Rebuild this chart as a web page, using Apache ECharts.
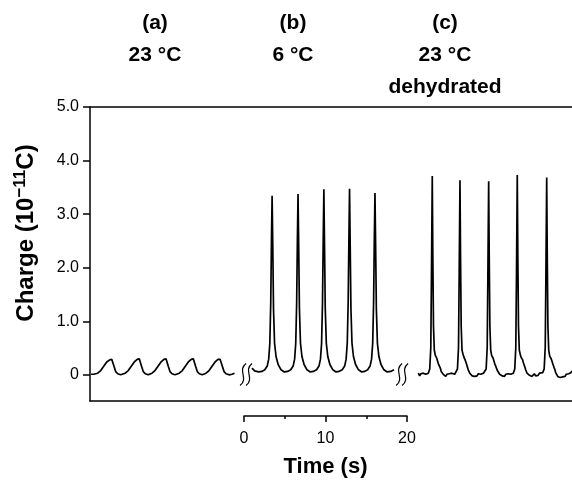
<!DOCTYPE html>
<html>
<head>
<meta charset="utf-8">
<title>Charge vs time</title>
<script src="https://cdn.jsdelivr.net/npm/echarts@6/dist/echarts.min.js"></script>
<style>
  html, body { margin: 0; padding: 0; background: #fff; }
  #chart { width: 572px; height: 483px; }
</style>
</head>
<body>
<div id="chart"></div>
<script>
// time (s) from the left edge of each panel, charge in 10^-11 C
const panelA = [
  [0, 0.0], [0.33, 0.0], [0.82, 0.02], [1.19, 0.07], [1.56, 0.15], [1.93, 0.23], [2.29, 0.27], [2.54, 0.28], [2.66, 0.25], [2.82, 0.15], [3.03, 0.05], [3.28, 0.01], [3.64, -0.01],
  [4.2, 0.02], [4.57, 0.07], [4.94, 0.15], [5.31, 0.23], [5.67, 0.28], [5.92, 0.29], [6.04, 0.26], [6.2, 0.15], [6.41, 0.05], [6.66, 0.01], [7.02, -0.01],
  [7.48, 0.02], [7.85, 0.07], [8.22, 0.15], [8.59, 0.23], [8.95, 0.28], [9.2, 0.29], [9.32, 0.26], [9.48, 0.15], [9.69, 0.05], [9.94, 0.01], [10.3, -0.01],
  [10.83, 0.02], [11.2, 0.07], [11.57, 0.15], [11.94, 0.23], [12.3, 0.28], [12.55, 0.29], [12.67, 0.26], [12.83, 0.15], [13.04, 0.05], [13.29, 0.01], [13.65, -0.01],
  [14.11, 0.02], [14.48, 0.07], [14.85, 0.15], [15.22, 0.23], [15.58, 0.28], [15.83, 0.28], [15.95, 0.25], [16.11, 0.15], [16.32, 0.05], [16.57, 0.01], [16.93, -0.01], [17.3, 0.0], [17.6, 0.02]
]

const panelB = [
  [0.98, 0.08], [1.3, 0.03], [1.8, 0.01], [2.2, 0.02],
  [2.55, 0.05], [2.85, 0.12], [3.03, 0.25], [3.17, 0.55], [3.28, 1.3], [3.37, 2.5], [3.45, 3.33], [3.53, 2.4], [3.62, 1.2], [3.75, 0.55], [3.93, 0.3], [4.19, 0.15], [4.55, 0.05], [4.95, 0.01], [5.35, 0.02],
  [5.73, 0.05], [6.03, 0.12], [6.21, 0.25], [6.35, 0.55], [6.46, 1.3], [6.55, 2.5], [6.63, 3.36], [6.71, 2.4], [6.8, 1.2], [6.93, 0.55], [7.11, 0.3], [7.37, 0.15], [7.73, 0.05], [8.13, 0.01], [8.5, 0.02],
  [8.9, 0.05], [9.2, 0.12], [9.38, 0.25], [9.52, 0.55], [9.63, 1.3], [9.72, 2.5], [9.8, 3.45], [9.88, 2.4], [9.97, 1.2], [10.1, 0.55], [10.28, 0.3], [10.54, 0.15], [10.9, 0.05], [11.3, 0.01], [11.65, 0.02],
  [12.05, 0.05], [12.35, 0.12], [12.53, 0.25], [12.67, 0.55], [12.78, 1.3], [12.87, 2.5], [12.95, 3.46], [13.03, 2.4], [13.12, 1.2], [13.25, 0.55], [13.43, 0.3], [13.69, 0.15], [14.05, 0.05], [14.45, 0.01], [14.8, 0.02],
  [15.17, 0.05], [15.47, 0.12], [15.65, 0.25], [15.79, 0.55], [15.9, 1.3], [15.99, 2.5], [16.07, 3.38], [16.15, 2.4], [16.24, 1.2], [16.37, 0.55], [16.55, 0.3], [16.81, 0.15], [17.17, 0.05], [17.57, 0.01], [18.0, 0.02], [18.4, 0.05]
]

const panelC = [
  [1.39, 0.02], [1.55, -0.03], [1.7, 0.01], [1.85, -0.02], [2.0, 0.02], [2.15, -0.01], [2.3, 0.0], [2.45, -0.03], [2.61, 0.02], [2.79, 0.1], [2.92, 0.5], [3.0, 1.8], [3.1, 3.71], [3.17, 2.2], [3.25, 0.9], [3.35, 0.45], [3.47, 0.36], [3.56, 0.38], [3.65, 0.3], [3.75, 0.27], [3.84, 0.2], [3.93, 0.22], [4.02, 0.14], [4.12, 0.1], [4.2, 0.05], [4.3, 0.06], [4.45, 0.0], [4.6, 0.02], [4.75, -0.04], [4.9, 0.0], [5.05, -0.03], [5.2, 0.01], [5.35, -0.02], [5.5, 0.02], [5.7, -0.01], [5.85, 0.0],
  [6.01, 0.03], [6.19, 0.1], [6.32, 0.5], [6.4, 1.8], [6.5, 3.63], [6.57, 2.2], [6.65, 0.9], [6.75, 0.45], [6.87, 0.38], [6.96, 0.33], [7.05, 0.35], [7.15, 0.26], [7.24, 0.22], [7.33, 0.18], [7.42, 0.15], [7.52, 0.08], [7.6, 0.07], [7.7, 0.02], [7.85, 0.03], [8.0, -0.03], [8.15, 0.0], [8.3, -0.04], [8.45, -0.01], [8.6, -0.03], [8.75, 0.01], [8.9, -0.02], [9.05, 0.0], [9.2, -0.01], [9.38, 0.02],
  [9.53, 0.04], [9.71, 0.1], [9.84, 0.5], [9.92, 1.8], [10.02, 3.61], [10.09, 2.2], [10.17, 0.9], [10.27, 0.45], [10.39, 0.35], [10.48, 0.37], [10.57, 0.3], [10.67, 0.28], [10.76, 0.2], [10.85, 0.21], [10.94, 0.13], [11.04, 0.1], [11.12, 0.06], [11.22, 0.04], [11.37, 0.0], [11.52, 0.02], [11.67, -0.03], [11.82, -0.01], [11.97, -0.04], [12.12, 0.0], [12.27, -0.02], [12.42, 0.01], [12.57, -0.02], [12.72, 0.0], [12.89, 0.03],
  [13.04, 0.02], [13.22, 0.1], [13.35, 0.5], [13.43, 1.8], [13.53, 3.73], [13.6, 2.2], [13.68, 0.9], [13.78, 0.45], [13.9, 0.37], [13.99, 0.32], [14.08, 0.34], [14.18, 0.27], [14.27, 0.22], [14.36, 0.19], [14.45, 0.14], [14.55, 0.09], [14.63, 0.07], [14.73, 0.02], [14.88, 0.03], [15.03, -0.02], [15.18, 0.0], [15.33, -0.04], [15.48, -0.02], [15.63, 0.01], [15.78, -0.03], [15.93, 0.0], [16.08, -0.02], [16.25, 0.02], [16.4, 0.01],
  [16.65, 0.03], [16.83, 0.1], [16.96, 0.5], [17.04, 1.8], [17.14, 3.68], [17.21, 2.2], [17.29, 0.9], [17.39, 0.45], [17.51, 0.34], [17.6, 0.36], [17.69, 0.29], [17.79, 0.27], [17.88, 0.2], [17.97, 0.19], [18.06, 0.12], [18.16, 0.08], [18.24, 0.03], [18.34, 0.02], [18.49, -0.04], [18.64, -0.02], [18.79, -0.06], [18.94, -0.03], [19.09, -0.05], [19.24, -0.02], [19.39, -0.04], [19.54, 0.0], [19.69, -0.03], [19.84, 0.01], [19.99, 0.04], [20.1, 0.03], [20.24, 0.06]
]

const panelTitles = [
  ['(a)', '23 °C'],
  ['(b)', '6 °C'],
  ['(c)', '23 °C', 'dehydrated'],
]

const FONT = "'Liberation Sans', Arial, Helvetica, sans-serif"

let chart = echarts.init(document.getElementById('chart'))

let hidden = (grid, max) => ({ type: 'value', gridIndex: grid, min: 0, max: max, show: false })
let hiddenY = (grid) => ({ type: 'value', gridIndex: grid, min: -0.5, max: 5, show: false })
let lineOnly = (pos) => ({
  type: 'value',
  gridIndex: 0,
  position: pos,
  min: 0,
  max: 1,
  axisLine: { show: true, onZero: false, lineStyle: { color: '#000', width: 1.5 } },
  axisTick: { show: false },
  axisLabel: { show: false },
  splitLine: { show: false },
})
let trace = (xi, yi, data) => ({
  type: 'line',
  xAxisIndex: xi,
  yAxisIndex: yi,
  data: data,
  symbol: 'none',
  lineStyle: { color: '#000', width: 1.7 },
  clip: true,
})

let option = {
  animation: false,
  backgroundColor: '#fff',
  grid: [
    { left: 90, right: 0, top: 107, height: 294 }, // frame
    { left: 90, right: 0, top: 107, height: 268 }, // y ticks 0..5
    { left: 91, top: 107, height: 294, width: 150 }, // (a)
    { left: 244, top: 107, height: 294, width: 163 }, // (b)
    { left: 407, right: 0, top: 107, height: 294 }, // (c)
  ],
  xAxis: [
    lineOnly('bottom'),
    lineOnly('top'),
    hidden(1, 1),
    hidden(2, 18.4),
    {
      type: 'value',
      gridIndex: 3,
      position: 'bottom',
      offset: 17,
      min: 0,
      max: 20,
      interval: 10,
      name: 'Time (s)',
      nameLocation: 'middle',
      nameGap: 40,
      nameTextStyle: { color: '#000', fontSize: 22, fontWeight: 'bold', fontFamily: FONT },
      axisLine: { show: true, onZero: false, lineStyle: { color: '#000', width: 1.5 } },
      axisTick: { show: true, length: 6, lineStyle: { color: '#000', width: 1.5 } },
      minorTick: { show: true, splitNumber: 2, length: 3, lineStyle: { color: '#000', width: 1.5 } },
      axisLabel: { color: '#000', fontSize: 16, fontFamily: FONT, margin: 15 },
      splitLine: { show: false },
    },
    hidden(4, 20.245),
  ],
  yAxis: [
    {
      type: 'value',
      gridIndex: 0,
      min: -0.5,
      max: 5,
      axisLine: { show: true, onZero: false, lineStyle: { color: '#000', width: 1.5 } },
      axisTick: { show: false },
      axisLabel: { show: false },
      splitLine: { show: false },
    },
    {
      type: 'value',
      gridIndex: 1,
      min: 0,
      max: 5,
      interval: 1,
      name: '{n|Charge (10}{s|−11}{n|C)}',
      nameLocation: 'middle',
      nameGap: 50,
      nameTextStyle: {
        padding: [0, 0, 0, 16],
        rich: {
          n: { color: '#000', fontSize: 24, fontWeight: 'bold', fontFamily: FONT, lineHeight: 28 },
          s: { color: '#000', fontSize: 17, fontWeight: 'bold', fontFamily: FONT, lineHeight: 17, verticalAlign: 'top' },
        },
      },
      axisLine: { show: false, onZero: false },
      axisTick: { show: true, length: 7, lineStyle: { color: '#000', width: 1.5 } },
      axisLabel: {
        color: '#000',
        fontSize: 16,
        fontFamily: FONT,
        margin: 11,
        formatter: (v) => (v === 0 ? '0' : v.toFixed(1)),
      },
      splitLine: { show: false },
    },
    hiddenY(2),
    hiddenY(3),
    hiddenY(4),
  ],
  series: [trace(3, 2, panelA), trace(4, 3, panelB), trace(5, 4, panelC)],
}
chart.setOption(option)

// panel headings and the axis-break marks
let titleX = [155, 293, 445]
let graphics = []
panelTitles.forEach((lines, i) => {
  lines.forEach((txt, j) => {
    graphics.push({
      type: 'text',
      style: {
        text: txt,
        x: titleX[i],
        y: 23 + j * 32,
        textAlign: 'center',
        align: 'center',
        textVerticalAlign: 'middle',
        verticalAlign: 'middle',
        font: 'bold 21px ' + FONT,
        fill: '#000',
      },
    })
  })
})
// break positions on the (b) time axis
;[0.25, 19.4].forEach((t) => {
  let p = chart.convertToPixel({ xAxisIndex: 4, yAxisIndex: 3 }, [t, 0])
  let cy = p[1] + 2
  ;[-3, 3].forEach((dx) => {
    let x = p[0] + dx
    graphics.push({
      type: 'bezierCurve',
      shape: { x1: x + 3, y1: cy - 11, cpx1: x - 6, cpy1: cy - 4, cpx2: x + 6, cpy2: cy + 4, x2: x - 3, y2: cy + 11 },
      style: { stroke: '#000', lineWidth: 1.2, fill: null },
    })
  })
})
chart.setOption({ graphic: graphics })
</script>
</body>
</html>
